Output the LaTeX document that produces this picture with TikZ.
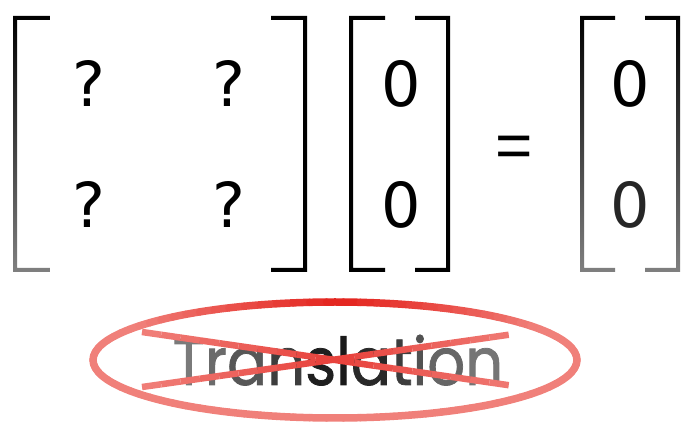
\documentclass[tikz,border=0pt]{standalone}
\usepackage{fontspec}
\setmainfont{DejaVu Sans}
\newfontfamily\handfont[FakeBold=1.2]{Poppins}
\newfontfamily\eqfont{Liberation Sans}
\usetikzlibrary{calc}
\definecolor{pinkred}{RGB}{240,128,122}
\definecolor{strongred}{RGB}{228,36,30}
\newcommand\brL[5]{\shade[#5] (#1-2,#2-2) -- (#4,#2-2) -- (#4,#2+2) -- (#1+2,#2+2) -- (#1+2,#3-2) -- (#4,#3-2) -- (#4,#3+2) -- (#1-2,#3+2) -- cycle;}
\newcommand\brR[5]{\shade[#5] (#1+2,#2-2) -- (#4,#2-2) -- (#4,#2+2) -- (#1-2,#2+2) -- (#1-2,#3-2) -- (#4,#3-2) -- (#4,#3+2) -- (#1+2,#3+2) -- cycle;}
\newcommand\lc[2]{\textcolor{black!#1}{#2}}
\begin{document}
\begin{tikzpicture}[x=1pt,y=-1pt,
  big/.style={font=\fontsize{62}{62}\selectfont, inner sep=0pt, anchor=base},
  solidbr/.style={top color=black,bottom color=black},
  fadebr/.style={top color=black,middle color=black,bottom color=black!50},
  hand/.style={font=\handfont\fontsize{66}{66}\selectfont, inner sep=0pt, anchor=base}]
\useasboundingbox (0,0) rectangle (691,427);
% matrix
\brL{15}{18}{270}{50}{fadebr}
\brR{305}{18}{270}{271}{solidbr}
\node[big] (q11) at (89,107) {?};
\node[big] (q12) at (229,107) {?};
\node[big] (q21) at (89,228) {?};
\node[big] (q22) at (229,228) {?};
% vector 1
\brL{351}{18}{270}{385}{solidbr}
\brR{448}{18}{270}{415}{solidbr}
\node[big] (z1) at (401,107) {0};
\node[big] (z2) at (401,228) {0};
% equals
\node[big,font=\eqfont\fontsize{64}{64}\selectfont] (eq) at (514.5,168) {=};
% vector 2
\brL{582}{18}{270}{615}{fadebr}
\brR{678}{18}{270}{645}{fadebr}
\node[big] (w1) at (630,107) {0};
\node[big,text=black!85] (w2) at (630,228) {0};
% Translation
\node[hand] (tr) at (338,385) {\scalebox{0.9}[1]{\lc{52}{T}\lc{58}{r}\lc{66}{a}\lc{76}{n}\lc{88}{s}\lc{90}{l}\lc{84}{a}\lc{76}{t}\lc{68}{i}\lc{60}{o}\lc{54}{n}}};
% red ellipse
\foreach \a in {0,4,...,356}{
  \pgfmathsetmacro\m{max(0,1-abs(\a-270)/55)*100}
  \draw[line width=7.5,line cap=round,color=strongred!\m!pinkred]
    ($(335,360)+({242*cos(\a)},{58*sin(\a)})$) arc[start angle=\a,end angle=\a+4,x radius=242,y radius=58];
}
% cross
\coordinate (x1a) at (142,332);
\coordinate (x1b) at (528,388);
\coordinate (x2a) at (142,387);
\coordinate (x2b) at (528,332);
\foreach \s/\e in {x1a/x1b,x2a/x2b}{
  \foreach \t in {0,0.05,...,0.95}{
    \pgfmathsetmacro\m{max(0,1-abs(\t+0.025-0.5)/0.5)*70}
    \draw[line width=6.5,color=strongred!\m!pinkred] ($(\s)!\t!(\e)$) -- ($(\s)!\t+0.05!(\e)$);
  }
}
\end{tikzpicture}
\end{document}
